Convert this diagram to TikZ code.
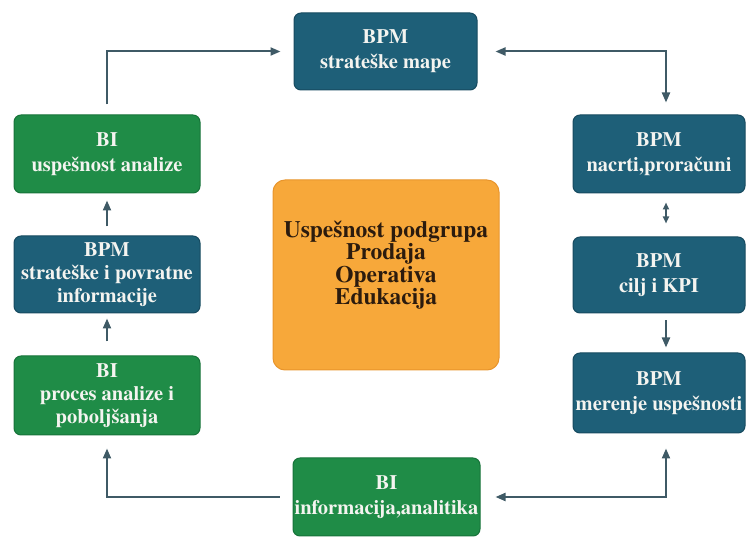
\documentclass[tikz,border=0pt]{standalone}
\usepackage{fontspec}
\setmainfont{TeX Gyre Termes}
\usetikzlibrary{arrows.meta}

\definecolor{bpmteal}{HTML}{1E5F78}
\definecolor{bpmedge}{HTML}{174B60}
\definecolor{bigreen}{HTML}{1F8C47}
\definecolor{biedge}{HTML}{17733A}
\definecolor{hubfill}{HTML}{F7A83A}
\definecolor{hubedge}{HTML}{E8952C}
\definecolor{hubtext}{HTML}{2B1B0E}
\definecolor{linkgray}{HTML}{3F5A66}
\definecolor{boxtext}{HTML}{F4F4F0}

\begin{document}
\begin{tikzpicture}[x=1pt,y=-1pt,
  box/.style={rounded corners=7pt, align=center, inner sep=0pt, line width=1pt,
    text=boxtext, font=\fontsize{20.5}{25}\selectfont\bfseries},
  tight/.style={font=\fontsize{20.5}{23}\selectfont\bfseries},
  bpm/.style={box, fill=bpmteal, draw=bpmedge},
  bi/.style={box, fill=bigreen, draw=biedge},
  hub/.style={rounded corners=12pt, fill=hubfill, draw=hubedge, line width=1pt,
    text=hubtext, align=center, inner sep=0pt},
  link/.style={draw=linkgray, line width=2pt},
  tip/.style={-{Triangle[length=10pt,width=8pt]}},
  tips/.style={{Triangle[length=10pt,width=8pt]}-{Triangle[length=10pt,width=8pt]}},
  smalltips/.style={{Triangle[length=7pt,width=6pt]}-{Triangle[length=7pt,width=6pt]}}
]
\useasboundingbox (0,0) rectangle (748,537);

% top and bottom of the cycle
\node[bpm, minimum width=183pt, minimum height=77pt] (top) at (385.5,51.5) {BPM\\strateške mape};
\node[bi,  minimum width=187pt, minimum height=78pt] (bot) at (386.5,497) {BI\\informacija,analitika};

% right column
\node[bpm, minimum width=172pt, minimum height=78pt] (r1) at (659,154) {BPM\\nacrti,proračuni};
\node[bpm, minimum width=172pt, minimum height=76pt] (r2) at (659,275) {BPM\\cilj i KPI};
\node[bpm, minimum width=172pt, minimum height=80pt] (r3) at (659,393) {BPM\\merenje uspešnosti};

% left column
\node[bi,  minimum width=186pt, minimum height=78pt] (l1) at (107,154) {BI\\uspešnost analize};
\node[bpm, tight, minimum width=186pt, minimum height=77pt] (l2) at (107,274.5) {BPM\\strateške i povratne\\informacije};
\node[bi,  tight, minimum width=186pt, minimum height=79pt] (l3) at (107,395.5) {BI\\proces analize i\\poboljšanja};

% central block; extra depth lifts the text block above the middle
\node[hub, minimum width=226pt, minimum height=190pt] (hub) at (386,275)
  {\raisebox{0pt}[\height][\dimexpr\depth+18pt\relax]{\fontsize{23.5}{21}\selectfont\bfseries
   \begin{tabular}{@{}c@{}}Uspešnost podgrupa\\Prodaja\\Operativa\\Edukacija\end{tabular}}};

% connectors
\draw[link, tip, shorten <=10pt, shorten >=13pt] (l1.north) |- (top.west);
\draw[link, tips, shorten <=18pt, shorten >=12pt] (top.east) -| ([xshift=7pt]r1.north);
\draw[link, smalltips, shorten <=9pt, shorten >=13pt] ([xshift=7pt]r1.south) -- ([xshift=7pt]r2.north);
\draw[link, tip, shorten <=7pt, shorten >=5pt] ([xshift=7pt]r2.south) -- ([xshift=7pt]r3.north);
\draw[link, tips, shorten <=15pt, shorten >=15pt] ([xshift=7pt]r3.south) |- (bot.east);
\draw[link, tip, shorten <=13pt, shorten >=13pt] (bot.west) -| (l3.south);
\draw[link, tip, shorten <=14pt, shorten >=5pt] (l3.north) -- (l2.south);
\draw[link, tip, shorten <=9pt, shorten >=7pt] (l2.north) -- (l1.south);
\end{tikzpicture}
\end{document}
